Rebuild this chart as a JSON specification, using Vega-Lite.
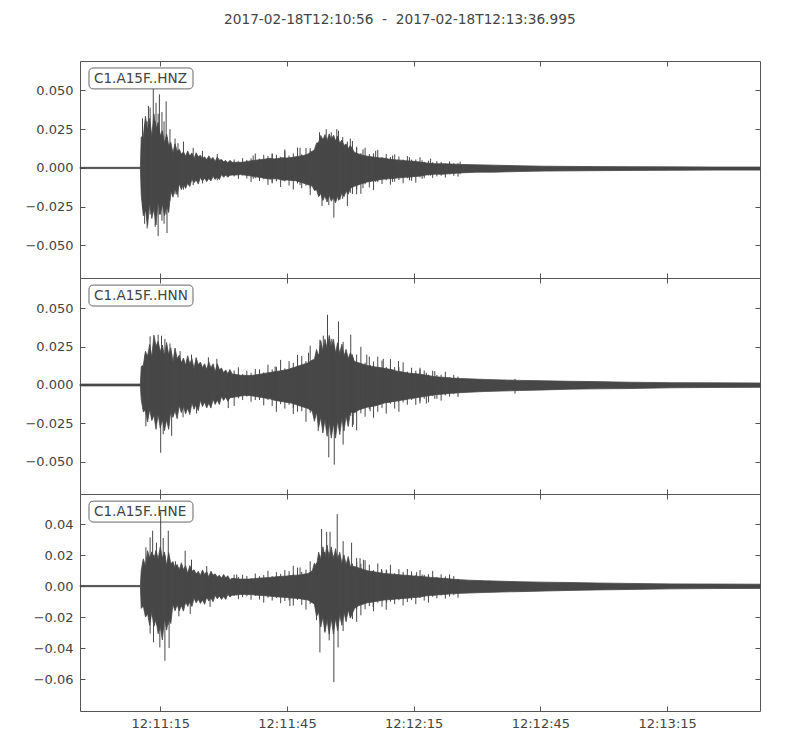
{
"$schema": "https://vega.github.io/schema/vega-lite/v6.json",
"background": "white",
"padding": {"left": 5, "top": 13, "right": 30, "bottom": 10},
"bounds": "flush",
"title": {"text": "2017-02-18T12:10:56\u00a0\u00a0-\u00a0\u00a02017-02-18T12:13:36.995", "anchor": "middle", "font": "DejaVu Sans", "fontSize": 13.7, "fontWeight": "normal", "color": "#444", "offset": 33, "dx": 16},
"config": {"view": {"stroke": "#555", "strokeWidth": 1}, "concat": {"spacing": 0}},
"spacing": 0,
"datasets": {
"bz": [{"t":0,"h":0.0004,"l":-0.0004},{"t":14.3,"h":0.0004,"l":-0.0004},{"t":14.5,"h":0.02,"l":-0.0176},{"t":15,"h":0.0203,"l":-0.0308},{"t":15.5,"h":0.0334,"l":-0.027},{"t":16,"h":0.0238,"l":-0.0372},{"t":16.5,"h":0.0319,"l":-0.0225},{"t":17,"h":0.0203,"l":-0.0326},{"t":17.5,"h":0.0348,"l":-0.0264},{"t":18,"h":0.0252,"l":-0.0368},{"t":18.5,"h":0.0294,"l":-0.0217},{"t":19,"h":0.0208,"l":-0.03},{"t":19.5,"h":0.024,"l":-0.0232},{"t":20,"h":0.0158,"l":-0.0308},{"t":20.5,"h":0.0219,"l":-0.0243},{"t":21,"h":0.0145,"l":-0.0288},{"t":21.5,"h":0.0165,"l":-0.015},{"t":22,"h":0.0098,"l":-0.0189},{"t":22.5,"h":0.0156,"l":-0.0136},{"t":23,"h":0.0108,"l":-0.0173},{"t":23.5,"h":0.0121,"l":-0.0102},{"t":24,"h":0.0088,"l":-0.014},{"t":24.5,"h":0.0105,"l":-0.0104},{"t":25,"h":0.0075,"l":-0.0132},{"t":25.5,"h":0.0109,"l":-0.0099},{"t":26,"h":0.0077,"l":-0.012},{"t":26.5,"h":0.0097,"l":-0.0071},{"t":27,"h":0.006,"l":-0.0095},{"t":27.5,"h":0.0098,"l":-0.0077},{"t":28,"h":0.0072,"l":-0.0104},{"t":28.5,"h":0.0082,"l":-0.0061},{"t":29,"h":0.006,"l":-0.0085},{"t":29.5,"h":0.0072,"l":-0.0066},{"t":30,"h":0.0053,"l":-0.0088},{"t":30.5,"h":0.0078,"l":-0.0068},{"t":31,"h":0.0055,"l":-0.0084},{"t":31.5,"h":0.0068,"l":-0.0053},{"t":32,"h":0.0042,"l":-0.0074},{"t":32.5,"h":0.007,"l":-0.0058},{"t":33,"h":0.005,"l":-0.0075},{"t":33.5,"h":0.0055,"l":-0.0043},{"t":34,"h":0.004,"l":-0.006},{"t":34.5,"h":0.0048,"l":-0.0046},{"t":35,"h":0.0034,"l":-0.006},{"t":35.5,"h":0.0049,"l":-0.0047},{"t":36,"h":0.0036,"l":-0.0046},{"t":37,"h":0.0037,"l":-0.0045},{"t":38,"h":0.0036,"l":-0.0043},{"t":39,"h":0.0039,"l":-0.0046},{"t":40,"h":0.0044,"l":-0.005},{"t":41,"h":0.0048,"l":-0.0054},{"t":42,"h":0.0052,"l":-0.0059},{"t":43,"h":0.0054,"l":-0.0063},{"t":44,"h":0.0058,"l":-0.0068},{"t":45,"h":0.0062,"l":-0.0072},{"t":46,"h":0.0058,"l":-0.007},{"t":47,"h":0.0062,"l":-0.0072},{"t":48,"h":0.0066,"l":-0.0079},{"t":49,"h":0.0064,"l":-0.0077},{"t":50,"h":0.0067,"l":-0.0081},{"t":51,"h":0.0072,"l":-0.0082},{"t":52,"h":0.0076,"l":-0.009},{"t":53,"h":0.0081,"l":-0.0099},{"t":54,"h":0.009,"l":-0.0108},{"t":55,"h":0.0108,"l":-0.0117},{"t":55.5,"h":0.0118,"l":-0.0145},{"t":56,"h":0.016,"l":-0.014},{"t":56.5,"h":0.0165,"l":-0.0185},{"t":57,"h":0.021,"l":-0.0165},{"t":57.5,"h":0.018,"l":-0.021},{"t":58,"h":0.0215,"l":-0.018},{"t":58.5,"h":0.0175,"l":-0.022},{"t":59,"h":0.022,"l":-0.0175},{"t":59.5,"h":0.0185,"l":-0.0215},{"t":60,"h":0.021,"l":-0.019},{"t":60.5,"h":0.0175,"l":-0.0225},{"t":61,"h":0.0205,"l":-0.018},{"t":61.5,"h":0.016,"l":-0.0205},{"t":62,"h":0.018,"l":-0.016},{"t":62.5,"h":0.0145,"l":-0.0185},{"t":63,"h":0.0155,"l":-0.015},{"t":63.5,"h":0.0125,"l":-0.017},{"t":64,"h":0.0145,"l":-0.013},{"t":65,"h":0.01,"l":-0.0118},{"t":66,"h":0.009,"l":-0.0108},{"t":67,"h":0.0081,"l":-0.0099},{"t":68,"h":0.0076,"l":-0.009},{"t":69,"h":0.0072,"l":-0.0086},{"t":70,"h":0.0068,"l":-0.0081},{"t":71,"h":0.0065,"l":-0.0076},{"t":72,"h":0.0063,"l":-0.0072},{"t":73,"h":0.0058,"l":-0.007},{"t":74,"h":0.0054,"l":-0.0068},{"t":75,"h":0.0052,"l":-0.0065},{"t":76,"h":0.005,"l":-0.0063},{"t":77,"h":0.0047,"l":-0.006},{"t":78,"h":0.0045,"l":-0.0059},{"t":79,"h":0.0043,"l":-0.0056},{"t":80,"h":0.004,"l":-0.0054},{"t":81,"h":0.0036,"l":-0.005},{"t":82,"h":0.0032,"l":-0.0045},{"t":83,"h":0.003,"l":-0.0042},{"t":84,"h":0.0027,"l":-0.004},{"t":86,"h":0.0027,"l":-0.004},{"t":88,"h":0.0025,"l":-0.0036},{"t":90,"h":0.0023,"l":-0.0032},{"t":94,"h":0.002,"l":-0.0027},{"t":98,"h":0.0018,"l":-0.0027},{"t":104,"h":0.0014,"l":-0.0023},{"t":110,"h":0.0011,"l":-0.002},{"t":120,"h":0.0009,"l":-0.0018},{"t":130,"h":0.0008,"l":-0.0016},{"t":140,"h":0.0007,"l":-0.0015},{"t":150,"h":0.0006,"l":-0.0014},{"t":160.995,"h":0.0006,"l":-0.0014}],
"sz": [{"t":14.8,"h":0.032,"l":-0.026},{"t":15.3,"h":0.028,"l":-0.036},{"t":15.9,"h":0.03,"l":-0.039},{"t":16.2,"h":0.04,"l":-0.02},{"t":16.6,"h":0.039,"l":-0.03},{"t":17.35,"h":0.051,"l":-0.025},{"t":17.8,"h":0.03,"l":-0.038},{"t":18,"h":0.042,"l":-0.03},{"t":18.5,"h":0.035,"l":-0.044},{"t":18.8,"h":0.0475,"l":-0.03},{"t":19.4,"h":0.036,"l":-0.034},{"t":19.9,"h":0.03,"l":-0.036},{"t":20.4,"h":0.043,"l":-0.03},{"t":20.6,"h":0.02,"l":-0.042},{"t":21.3,"h":0.025,"l":-0.021},{"t":22.5,"h":0.019,"l":-0.017},{"t":23.2,"h":0.016,"l":-0.019},{"t":24.5,"h":0.017,"l":-0.014},{"t":26.8,"h":0.013,"l":-0.011},{"t":29,"h":0.011,"l":-0.01},{"t":32.5,"h":0.009,"l":-0.008},{"t":41,"h":0.008,"l":-0.007},{"t":45.5,"h":0.009,"l":-0.01},{"t":48.5,"h":0.012,"l":-0.008},{"t":52.1,"h":0.013,"l":-0.011},{"t":54.5,"h":0.011,"l":-0.013},{"t":56.7,"h":0.023,"l":-0.018},{"t":57.3,"h":0.019,"l":-0.0245},{"t":58.3,"h":0.025,"l":-0.02},{"t":58.9,"h":0.02,"l":-0.024},{"t":59.5,"h":0.023,"l":-0.019},{"t":60.1,"h":0.021,"l":-0.032},{"t":60.8,"h":0.025,"l":-0.02},{"t":61.2,"h":0.024,"l":-0.021},{"t":62.2,"h":0.02,"l":-0.02},{"t":63.3,"h":0.017,"l":-0.0245},{"t":64,"h":0.019,"l":-0.016},{"t":65.5,"h":0.013,"l":-0.017},{"t":67,"h":0.012,"l":-0.013},{"t":70,"h":0.011,"l":-0.009},{"t":74,"h":0.008,"l":-0.009},{"t":78,"h":0.007,"l":-0.008},{"t":81,"h":0.005,"l":-0.007},{"t":83,"h":0.006,"l":-0.005},{"t":90,"h":0.004,"l":-0.004},
{"t":36.5,"h":0.0055,"l":-0.0055},{"t":37.5,"h":0.0043,"l":-0.007},{"t":38.5,"h":0.0063,"l":-0.0048},{"t":39.5,"h":0.0052,"l":-0.0068},{"t":40.5,"h":0.0062,"l":-0.009},{"t":41.5,"h":0.0093,"l":-0.0066},{"t":42.5,"h":0.006,"l":-0.0085},{"t":43.5,"h":0.0085,"l":-0.0073},{"t":44.5,"h":0.0078,"l":-0.0109},{"t":45.5,"h":0.0094,"l":-0.0094},{"t":46.5,"h":0.0085,"l":-0.0086},{"t":47.5,"h":0.0072,"l":-0.0123},{"t":48.5,"h":0.0108,"l":-0.0087},{"t":49.5,"h":0.008,"l":-0.0114},{"t":50.5,"h":0.0094,"l":-0.014},{"t":51.5,"h":0.0131,"l":-0.01},{"t":52.5,"h":0.0088,"l":-0.0131},{"t":53.5,"h":0.0128,"l":-0.0115},{"t":54.5,"h":0.0127,"l":-0.0175},{"t":64.5,"h":0.0174,"l":-0.0168},{"t":65.5,"h":0.0137,"l":-0.0138},{"t":66.5,"h":0.0095,"l":-0.0167},{"t":67.5,"h":0.0131,"l":-0.0105},{"t":68.5,"h":0.009,"l":-0.0126},{"t":69.5,"h":0.0094,"l":-0.0143},{"t":70.5,"h":0.0117,"l":-0.0091},{"t":71.5,"h":0.0071,"l":-0.0103},{"t":72.5,"h":0.009,"l":-0.0079},{"t":73.5,"h":0.0071,"l":-0.0108},{"t":74.5,"h":0.0087,"l":-0.0089},{"t":75.5,"h":0.0074,"l":-0.0078},{"t":76.5,"h":0.0054,"l":-0.0099},{"t":77.5,"h":0.0077,"l":-0.0066},{"t":78.5,"h":0.0054,"l":-0.0083},{"t":79.5,"h":0.0055,"l":-0.0095},{"t":80.5,"h":0.0069,"l":-0.0061},{"t":81.5,"h":0.0039,"l":-0.0066},{"t":82.5,"h":0.0047,"l":-0.0048},{"t":83.5,"h":0.0037,"l":-0.0064},{"t":84.5,"h":0.0044,"l":-0.0054},{"t":85.5,"h":0.0039,"l":-0.005},{"t":86.5,"h":0.0029,"l":-0.0062},{"t":87.5,"h":0.0042,"l":-0.0041},{"t":88.5,"h":0.003,"l":-0.0051},{"t":89.5,"h":0.0031,"l":-0.0056}],
"bn": [{"t":0,"h":0.0006,"l":-0.0006},{"t":14.3,"h":0.0006,"l":-0.0006},{"t":14.5,"h":0.012,"l":-0.0096},{"t":15,"h":0.0128,"l":-0.0176},{"t":15.5,"h":0.0219,"l":-0.0162},{"t":16,"h":0.0187,"l":-0.024},{"t":16.5,"h":0.0264,"l":-0.0158},{"t":17,"h":0.0182,"l":-0.0231},{"t":17.5,"h":0.0324,"l":-0.0196},{"t":18,"h":0.0252,"l":-0.0288},{"t":18.5,"h":0.0284,"l":-0.0189},{"t":19,"h":0.0216,"l":-0.028},{"t":19.5,"h":0.026,"l":-0.0224},{"t":20,"h":0.0188,"l":-0.0297},{"t":20.5,"h":0.0276,"l":-0.0225},{"t":21,"h":0.0196,"l":-0.0288},{"t":21.5,"h":0.0242,"l":-0.0165},{"t":22,"h":0.0147,"l":-0.021},{"t":22.5,"h":0.024,"l":-0.0166},{"t":23,"h":0.0171,"l":-0.0219},{"t":23.5,"h":0.0194,"l":-0.013},{"t":24,"h":0.0144,"l":-0.018},{"t":24.5,"h":0.0175,"l":-0.014},{"t":25,"h":0.0128,"l":-0.0187},{"t":25.5,"h":0.019,"l":-0.0149},{"t":26,"h":0.0136,"l":-0.0192},{"t":26.5,"h":0.0171,"l":-0.0116},{"t":27,"h":0.0105,"l":-0.0158},{"t":27.5,"h":0.0178,"l":-0.0126},{"t":28,"h":0.0131,"l":-0.0167},{"t":28.5,"h":0.0149,"l":-0.0099},{"t":29,"h":0.0112,"l":-0.014},{"t":29.5,"h":0.0138,"l":-0.011},{"t":30,"h":0.0101,"l":-0.0149},{"t":30.5,"h":0.015,"l":-0.0117},{"t":31,"h":0.011,"l":-0.015},{"t":31.5,"h":0.0138,"l":-0.0092},{"t":32,"h":0.0084,"l":-0.0126},{"t":32.5,"h":0.0138,"l":-0.0098},{"t":33,"h":0.0099,"l":-0.0127},{"t":33.5,"h":0.011,"l":-0.0074},{"t":34,"h":0.008,"l":-0.01},{"t":34.5,"h":0.0098,"l":-0.0078},{"t":35,"h":0.0071,"l":-0.0105},{"t":35.5,"h":0.0101,"l":-0.0083},{"t":36,"h":0.0072,"l":-0.0081},{"t":37,"h":0.0068,"l":-0.0077},{"t":38,"h":0.0063,"l":-0.0072},{"t":39,"h":0.0063,"l":-0.0068},{"t":40,"h":0.0061,"l":-0.0068},{"t":41,"h":0.0063,"l":-0.0072},{"t":42,"h":0.0068,"l":-0.0077},{"t":43,"h":0.0072,"l":-0.0081},{"t":44,"h":0.0077,"l":-0.0086},{"t":45,"h":0.0081,"l":-0.009},{"t":46,"h":0.0086,"l":-0.0099},{"t":47,"h":0.009,"l":-0.0104},{"t":48,"h":0.0095,"l":-0.0108},{"t":49,"h":0.0099,"l":-0.0113},{"t":50,"h":0.0108,"l":-0.0117},{"t":51,"h":0.0117,"l":-0.0126},{"t":52,"h":0.0126,"l":-0.0135},{"t":53,"h":0.0135,"l":-0.0144},{"t":54,"h":0.0144,"l":-0.0153},{"t":55,"h":0.0162,"l":-0.0171},{"t":55.5,"h":0.0166,"l":-0.0236},{"t":56,"h":0.0231,"l":-0.0176},{"t":56.5,"h":0.0184,"l":-0.0276},{"t":57,"h":0.0288,"l":-0.0208},{"t":57.5,"h":0.0221,"l":-0.0311},{"t":58,"h":0.0297,"l":-0.0224},{"t":58.5,"h":0.0238,"l":-0.0333},{"t":59,"h":0.0322,"l":-0.024},{"t":59.5,"h":0.0243,"l":-0.0345},{"t":60,"h":0.0297,"l":-0.0248},{"t":60.5,"h":0.0208,"l":-0.0345},{"t":61,"h":0.0275,"l":-0.0232},{"t":61.5,"h":0.0204,"l":-0.0322},{"t":62,"h":0.0265,"l":-0.0216},{"t":62.5,"h":0.0187,"l":-0.0299},{"t":63,"h":0.0231,"l":-0.02},{"t":63.5,"h":0.017,"l":-0.027},{"t":64,"h":0.0209,"l":-0.0176},{"t":65,"h":0.0153,"l":-0.018},{"t":66,"h":0.0144,"l":-0.0162},{"t":67,"h":0.0135,"l":-0.0153},{"t":68,"h":0.0126,"l":-0.0144},{"t":69,"h":0.0122,"l":-0.014},{"t":70,"h":0.0117,"l":-0.0135},{"t":71,"h":0.0113,"l":-0.0126},{"t":72,"h":0.0108,"l":-0.0117},{"t":73,"h":0.0104,"l":-0.0113},{"t":74,"h":0.0099,"l":-0.0108},{"t":75,"h":0.009,"l":-0.0104},{"t":76,"h":0.0086,"l":-0.0099},{"t":77,"h":0.0081,"l":-0.0095},{"t":78,"h":0.0077,"l":-0.009},{"t":79,"h":0.0074,"l":-0.0086},{"t":80,"h":0.0072,"l":-0.0081},{"t":81,"h":0.0068,"l":-0.0077},{"t":82,"h":0.0063,"l":-0.0072},{"t":83,"h":0.0059,"l":-0.0068},{"t":84,"h":0.0054,"l":-0.0063},{"t":85,"h":0.0052,"l":-0.0061},{"t":86,"h":0.005,"l":-0.0059},{"t":88,"h":0.0045,"l":-0.0054},{"t":90,"h":0.0042,"l":-0.005},{"t":92,"h":0.004,"l":-0.0047},{"t":96,"h":0.0036,"l":-0.0042},{"t":100,"h":0.0033,"l":-0.0039},{"t":104,"h":0.003,"l":-0.0036},{"t":110,"h":0.0027,"l":-0.0032},{"t":116,"h":0.0024,"l":-0.0027},{"t":122,"h":0.0022,"l":-0.0025},{"t":130,"h":0.0018,"l":-0.0023},{"t":140,"h":0.0015,"l":-0.0018},{"t":150,"h":0.0014,"l":-0.0016},{"t":160.995,"h":0.0013,"l":-0.0015}],
"sn": [{"t":15.4,"h":0.0197,"l":-0.012},{"t":15.6,"h":0.01,"l":-0.0268},{"t":16.6,"h":0.0316,"l":-0.015},{"t":17,"h":0.015,"l":-0.022},{"t":18.5,"h":0.0327,"l":-0.02},{"t":19.1,"h":0.02,"l":-0.044},{"t":19.3,"h":0.032,"l":-0.02},{"t":19.7,"h":0.02,"l":-0.032},{"t":20.1,"h":0.03,"l":-0.02},{"t":21.3,"h":0.027,"l":-0.02},{"t":21.7,"h":0.02,"l":-0.033},{"t":23.7,"h":0.022,"l":-0.015},{"t":24.4,"h":0.015,"l":-0.021},{"t":26.4,"h":0.0197,"l":-0.012},{"t":27.6,"h":0.012,"l":-0.0185},{"t":30.4,"h":0.018,"l":-0.011},{"t":32.4,"h":0.017,"l":-0.01},{"t":35.1,"h":0.008,"l":-0.015},{"t":46.2,"h":0.012,"l":-0.009},{"t":50.5,"h":0.01,"l":-0.015},{"t":54.1,"h":0.021,"l":-0.014},{"t":56.4,"h":0.02,"l":-0.03},{"t":56.8,"h":0.0294,"l":-0.02},{"t":57.6,"h":0.032,"l":-0.022},{"t":58.6,"h":0.0456,"l":-0.025},{"t":58.9,"h":0.025,"l":-0.047},{"t":59.6,"h":0.03,"l":-0.03},{"t":60.2,"h":0.025,"l":-0.0517},{"t":61.2,"h":0.0413,"l":-0.025},{"t":62.3,"h":0.028,"l":-0.0387},{"t":64.1,"h":0.0327,"l":-0.02},{"t":64.7,"h":0.018,"l":-0.0258},{"t":67.9,"h":0.0197,"l":-0.013},{"t":68.7,"h":0.013,"l":-0.017},{"t":71.8,"h":0.017,"l":-0.012},{"t":75.4,"h":0.0155,"l":-0.011},{"t":80.5,"h":0.01,"l":-0.012},{"t":82,"h":0.008,"l":-0.012},{"t":84,"h":0.009,"l":-0.009},{"t":103,"h":0.004,"l":-0.0056},
{"t":36.5,"h":0.0094,"l":-0.0136},{"t":37.5,"h":0.0115,"l":-0.0086},{"t":38.5,"h":0.007,"l":-0.0098},{"t":39.5,"h":0.0093,"l":-0.0075},{"t":40.5,"h":0.0079,"l":-0.0109},{"t":41.5,"h":0.0104,"l":-0.0098},{"t":42.5,"h":0.0101,"l":-0.0097},{"t":43.5,"h":0.0082,"l":-0.0133},{"t":44.5,"h":0.0132,"l":-0.0098},{"t":45.5,"h":0.0101,"l":-0.0137},{"t":46.5,"h":0.0118,"l":-0.0174},{"t":47.5,"h":0.0163,"l":-0.0124},{"t":48.5,"h":0.0108,"l":-0.0153},{"t":49.5,"h":0.0155,"l":-0.0128},{"t":50.5,"h":0.0144,"l":-0.0189},{"t":51.5,"h":0.0196,"l":-0.0174},{"t":52.5,"h":0.0189,"l":-0.0171},{"t":53.5,"h":0.0155,"l":-0.0239},{"t":54.5,"h":0.0255,"l":-0.018},{"t":64.5,"h":0.0198,"l":-0.0273},{"t":65.5,"h":0.0198,"l":-0.0295},{"t":66.5,"h":0.0248,"l":-0.0184},{"t":67.5,"h":0.0145,"l":-0.0206},{"t":68.5,"h":0.0185,"l":-0.0157},{"t":69.5,"h":0.0152,"l":-0.0213},{"t":70.5,"h":0.0184,"l":-0.0174},{"t":71.5,"h":0.0159,"l":-0.0149},{"t":72.5,"h":0.0117,"l":-0.0186},{"t":73.5,"h":0.0168,"l":-0.0122},{"t":74.5,"h":0.0116,"l":-0.0153},{"t":75.5,"h":0.0116,"l":-0.0174},{"t":76.5,"h":0.0147,"l":-0.0113},{"t":77.5,"h":0.0087,"l":-0.0128},{"t":78.5,"h":0.0112,"l":-0.0097},{"t":79.5,"h":0.0093,"l":-0.0129},{"t":80.5,"h":0.0112,"l":-0.0104},{"t":81.5,"h":0.0094,"l":-0.009},{"t":82.5,"h":0.0067,"l":-0.0112},{"t":83.5,"h":0.0093,"l":-0.0072},{"t":84.5,"h":0.0065,"l":-0.009},{"t":85.5,"h":0.0067,"l":-0.0102},{"t":86.5,"h":0.0086,"l":-0.0067},{"t":87.5,"h":0.0052,"l":-0.0076},{"t":88.5,"h":0.0066,"l":-0.0059},{"t":89.5,"h":0.0055,"l":-0.0078}],
"be": [{"t":0,"h":0.0004,"l":-0.0004},{"t":14.3,"h":0.0004,"l":-0.0004},{"t":14.5,"h":0.0102,"l":-0.0144},{"t":15,"h":0.0176,"l":-0.0128},{"t":15.5,"h":0.0126,"l":-0.02},{"t":16,"h":0.0228,"l":-0.0179},{"t":16.5,"h":0.018,"l":-0.0253},{"t":17,"h":0.0221,"l":-0.0168},{"t":17.5,"h":0.0176,"l":-0.026},{"t":18,"h":0.023,"l":-0.0216},{"t":18.5,"h":0.0173,"l":-0.0308},{"t":19,"h":0.0253,"l":-0.0261},{"t":19.5,"h":0.0179,"l":-0.0348},{"t":20,"h":0.022,"l":-0.021},{"t":20.5,"h":0.0133,"l":-0.0284},{"t":21,"h":0.0216,"l":-0.0213},{"t":21.5,"h":0.0144,"l":-0.0242},{"t":22,"h":0.0158,"l":-0.0119},{"t":22.5,"h":0.0116,"l":-0.016},{"t":23,"h":0.014,"l":-0.012},{"t":23.5,"h":0.0101,"l":-0.016},{"t":24,"h":0.015,"l":-0.0126},{"t":24.5,"h":0.0106,"l":-0.0162},{"t":25,"h":0.0132,"l":-0.0098},{"t":25.5,"h":0.0081,"l":-0.0131},{"t":26,"h":0.0132,"l":-0.0102},{"t":26.5,"h":0.0095,"l":-0.0132},{"t":27,"h":0.0105,"l":-0.0077},{"t":27.5,"h":0.0078,"l":-0.0108},{"t":28,"h":0.0095,"l":-0.0084},{"t":28.5,"h":0.0069,"l":-0.0112},{"t":29,"h":0.0104,"l":-0.009},{"t":29.5,"h":0.0075,"l":-0.0118},{"t":30,"h":0.0094,"l":-0.0071},{"t":30.5,"h":0.0057,"l":-0.0097},{"t":31,"h":0.0096,"l":-0.0077},{"t":31.5,"h":0.007,"l":-0.0101},{"t":32,"h":0.0079,"l":-0.006},{"t":32.5,"h":0.0058,"l":-0.0082},{"t":33,"h":0.007,"l":-0.0064},{"t":33.5,"h":0.0051,"l":-0.0086},{"t":34,"h":0.0075,"l":-0.0068},{"t":34.5,"h":0.0053,"l":-0.0086},{"t":35,"h":0.0066,"l":-0.0053},{"t":35.5,"h":0.0041,"l":-0.0071},{"t":36,"h":0.005,"l":-0.0059},{"t":37,"h":0.0047,"l":-0.0056},{"t":38,"h":0.0045,"l":-0.0054},{"t":39,"h":0.0045,"l":-0.0054},{"t":40,"h":0.0045,"l":-0.0054},{"t":41,"h":0.0047,"l":-0.0056},{"t":42,"h":0.005,"l":-0.0059},{"t":43,"h":0.0052,"l":-0.0061},{"t":44,"h":0.0054,"l":-0.0063},{"t":45,"h":0.0056,"l":-0.0065},{"t":46,"h":0.0059,"l":-0.0068},{"t":47,"h":0.0061,"l":-0.007},{"t":48,"h":0.0063,"l":-0.0072},{"t":49,"h":0.0065,"l":-0.0074},{"t":50,"h":0.0068,"l":-0.0077},{"t":51,"h":0.007,"l":-0.0079},{"t":52,"h":0.0072,"l":-0.0081},{"t":53,"h":0.0077,"l":-0.0086},{"t":54,"h":0.0081,"l":-0.009},{"t":55,"h":0.0099,"l":-0.0108},{"t":55.5,"h":0.0148,"l":-0.0116},{"t":56,"h":0.0128,"l":-0.0196},{"t":56.5,"h":0.0219,"l":-0.0168},{"t":57,"h":0.0168,"l":-0.0264},{"t":57.5,"h":0.0253,"l":-0.02},{"t":58,"h":0.0187,"l":-0.0299},{"t":58.5,"h":0.0264,"l":-0.0216},{"t":59,"h":0.0176,"l":-0.031},{"t":59.5,"h":0.0253,"l":-0.0208},{"t":60,"h":0.0168,"l":-0.031},{"t":60.5,"h":0.0241,"l":-0.0208},{"t":61,"h":0.016,"l":-0.0288},{"t":61.5,"h":0.0218,"l":-0.0184},{"t":62,"h":0.0144,"l":-0.0253},{"t":62.5,"h":0.0201,"l":-0.0168},{"t":63,"h":0.0136,"l":-0.023},{"t":63.5,"h":0.019,"l":-0.0152},{"t":64,"h":0.0128,"l":-0.0207},{"t":65,"h":0.0126,"l":-0.0144},{"t":66,"h":0.0117,"l":-0.0126},{"t":67,"h":0.0108,"l":-0.0117},{"t":68,"h":0.0099,"l":-0.0108},{"t":69,"h":0.0095,"l":-0.0104},{"t":70,"h":0.009,"l":-0.0099},{"t":71,"h":0.0086,"l":-0.0095},{"t":72,"h":0.0081,"l":-0.009},{"t":73,"h":0.0079,"l":-0.0088},{"t":74,"h":0.0077,"l":-0.0086},{"t":75,"h":0.0074,"l":-0.0083},{"t":76,"h":0.0072,"l":-0.0081},{"t":77,"h":0.007,"l":-0.0079},{"t":78,"h":0.0068,"l":-0.0077},{"t":79,"h":0.0065,"l":-0.0074},{"t":80,"h":0.0063,"l":-0.0072},{"t":81,"h":0.0061,"l":-0.0068},{"t":82,"h":0.0059,"l":-0.0063},{"t":83,"h":0.0056,"l":-0.0061},{"t":84,"h":0.0054,"l":-0.0059},{"t":85,"h":0.0052,"l":-0.0056},{"t":86,"h":0.005,"l":-0.0054},{"t":88,"h":0.0045,"l":-0.005},{"t":90,"h":0.0041,"l":-0.0047},{"t":92,"h":0.0038,"l":-0.0045},{"t":96,"h":0.0034,"l":-0.0041},{"t":100,"h":0.0031,"l":-0.0038},{"t":104,"h":0.0028,"l":-0.0036},{"t":110,"h":0.0025,"l":-0.0032},{"t":116,"h":0.0023,"l":-0.0028},{"t":122,"h":0.002,"l":-0.0025},{"t":130,"h":0.0017,"l":-0.0022},{"t":140,"h":0.0014,"l":-0.0018},{"t":150,"h":0.0013,"l":-0.0016},{"t":160.995,"h":0.0012,"l":-0.0015}],
"se": [{"t":15.3,"h":0.012,"l":-0.016},{"t":15.6,"h":0.025,"l":-0.015},{"t":16.6,"h":0.0314,"l":-0.0307},{"t":17.2,"h":0.0357,"l":-0.02},{"t":17.4,"h":0.02,"l":-0.0363},{"t":18.1,"h":0.028,"l":-0.025},{"t":18.9,"h":0.02,"l":-0.0396},{"t":19.1,"h":0.048,"l":-0.025},{"t":19.7,"h":0.031,"l":-0.028},{"t":20.1,"h":0.02,"l":-0.0482},{"t":20.9,"h":0.0357,"l":-0.025},{"t":21.1,"h":0.015,"l":-0.04},{"t":22.6,"h":0.016,"l":-0.014},{"t":23.4,"h":0.012,"l":-0.0195},{"t":24.9,"h":0.0228,"l":-0.012},{"t":26.1,"h":0.012,"l":-0.018},{"t":26.4,"h":0.017,"l":-0.01},{"t":30,"h":0.0129,"l":-0.008},{"t":30.8,"h":0.008,"l":-0.0135},{"t":37.1,"h":0.0075,"l":-0.006},{"t":49.7,"h":0.007,"l":-0.0129},{"t":50.5,"h":0.0131,"l":-0.007},{"t":52.1,"h":0.012,"l":-0.008},{"t":56,"h":0.015,"l":-0.022},{"t":56.8,"h":0.02,"l":-0.0428},{"t":57.2,"h":0.0368,"l":-0.02},{"t":57.9,"h":0.022,"l":-0.029},{"t":58.4,"h":0.035,"l":-0.02},{"t":59,"h":0.022,"l":-0.035},{"t":59.2,"h":0.035,"l":-0.02},{"t":60.1,"h":0.02,"l":-0.062},{"t":60.9,"h":0.0464,"l":-0.02},{"t":61.1,"h":0.02,"l":-0.0396},{"t":62.3,"h":0.029,"l":-0.029},{"t":64.3,"h":0.028,"l":-0.015},{"t":65.5,"h":0.015,"l":-0.023},{"t":66.3,"h":0.018,"l":-0.012},{"t":67.1,"h":0.017,"l":-0.01},{"t":69.4,"h":0.01,"l":-0.0135},{"t":71.4,"h":0.011,"l":-0.008},{"t":72.6,"h":0.01,"l":-0.0108},{"t":79.7,"h":0.009,"l":-0.007},{"t":81,"h":0.0075,"l":-0.007},
{"t":36.5,"h":0.0073,"l":-0.0064},{"t":37.5,"h":0.0059,"l":-0.0085},{"t":38.5,"h":0.0073,"l":-0.0072},{"t":39.5,"h":0.0065,"l":-0.0066},{"t":40.5,"h":0.0051,"l":-0.0088},{"t":41.5,"h":0.0081,"l":-0.0064},{"t":42.5,"h":0.0063,"l":-0.0087},{"t":43.5,"h":0.0071,"l":-0.0107},{"t":44.5,"h":0.0098,"l":-0.0075},{"t":45.5,"h":0.0064,"l":-0.0093},{"t":46.5,"h":0.009,"l":-0.0077},{"t":47.5,"h":0.0079,"l":-0.0111},{"t":48.5,"h":0.0103,"l":-0.0097},{"t":49.5,"h":0.0096,"l":-0.0092},{"t":50.5,"h":0.0077,"l":-0.0126},{"t":51.5,"h":0.0119,"l":-0.0089},{"t":52.5,"h":0.0091,"l":-0.0121},{"t":53.5,"h":0.0106,"l":-0.0152},{"t":54.5,"h":0.016,"l":-0.0116},{"t":64.5,"h":0.0145,"l":-0.0213},{"t":65.5,"h":0.0182,"l":-0.015},{"t":66.5,"h":0.0144,"l":-0.0189},{"t":67.5,"h":0.0167,"l":-0.015},{"t":68.5,"h":0.0139,"l":-0.0129},{"t":69.5,"h":0.0102,"l":-0.0162},{"t":70.5,"h":0.0146,"l":-0.0107},{"t":71.5,"h":0.0101,"l":-0.0133},{"t":72.5,"h":0.0107,"l":-0.0153},{"t":73.5,"h":0.0138,"l":-0.0101},{"t":74.5,"h":0.0083,"l":-0.0116},{"t":75.5,"h":0.0109,"l":-0.0091},{"t":76.5,"h":0.0091,"l":-0.0125},{"t":77.5,"h":0.011,"l":-0.0103},{"t":78.5,"h":0.0095,"l":-0.0091},{"t":79.5,"h":0.0071,"l":-0.0117},{"t":80.5,"h":0.0104,"l":-0.0077},{"t":81.5,"h":0.0073,"l":-0.0094},{"t":82.5,"h":0.0076,"l":-0.0107},{"t":83.5,"h":0.0098,"l":-0.0069},{"t":84.5,"h":0.0059,"l":-0.0079},{"t":85.5,"h":0.0076,"l":-0.006},{"t":86.5,"h":0.0062,"l":-0.0081},{"t":87.5,"h":0.0075,"l":-0.0067},{"t":88.5,"h":0.0065,"l":-0.0059},{"t":89.5,"h":0.0047,"l":-0.0075}]
},
"vconcat": [
{
"width": 680, "height": 217,
"resolve": {"axis": {"x": "independent", "y": "independent"}},
"layer": [
{"data": {"values": [{"label": "C1.A15F..HNZ"}]}, "mark": {"type": "rect", "fill": "white", "stroke": "#666", "strokeWidth": 1, "cornerRadius": 4},
 "encoding": {"x": {"datum": 2.13, "type": "quantitative", "scale": {"domain": [0, 160.995], "nice": false, "zero": false}, "axis": null}, "x2": {"datum": 26.75}, "y": {"datum": 0.0645, "type": "quantitative", "scale": {"domain": [-0.071, 0.069], "nice": false, "zero": false}, "axis": null}, "y2": {"datum": 0.051}}},
{"data": {"name": "bz"}, "mark": {"type": "area", "color": "#474747", "stroke": "#474747", "strokeWidth": 0.8},
 "encoding": {"x": {"field": "t", "type": "quantitative", "scale": {"domain": [0, 160.995], "nice": false, "zero": false}, "axis": {"orient": "bottom", "values": [19, 49, 79, 109, 139], "labels": false, "title": null, "domain": false, "grid": false, "tickSize": -5, "tickColor": "#555", "minExtent": 0, "maxExtent": 0}},
  "y": {"field": "h", "type": "quantitative", "scale": {"domain": [-0.071, 0.069], "nice": false, "zero": false}, "axis": {"orient": "left", "values": [-0.05, -0.025, 0, 0.025, 0.05], "format": ".3f", "title": null, "domain": false, "grid": false, "tickSize": -5, "tickColor": "#555", "labelPadding": 12, "labelFont": "DejaVu Sans", "labelFontSize": 13, "labelColor": "#444", "minExtent": 74, "maxExtent": 74}},
  "y2": {"field": "l"}}},
{"data": {"name": "sz"}, "mark": {"type": "rule", "color": "#474747", "strokeWidth": 1},
 "encoding": {"x": {"field": "t", "type": "quantitative", "scale": {"domain": [0, 160.995], "nice": false, "zero": false}, "axis": {"orient": "top", "values": [19, 49, 79, 109, 139], "labels": false, "title": null, "domain": false, "grid": false, "tickSize": -5, "tickColor": "#555", "minExtent": 0, "maxExtent": 0}},
  "y": {"field": "h", "type": "quantitative", "scale": {"domain": [-0.071, 0.069], "nice": false, "zero": false}, "axis": {"orient": "right", "values": [-0.05, -0.025, 0, 0.025, 0.05], "labels": false, "title": null, "domain": false, "grid": false, "tickSize": -5, "tickColor": "#555", "minExtent": 0, "maxExtent": 0}},
  "y2": {"field": "l"}}},
{"data": {"values": [{"label": "C1.A15F..HNZ"}]}, "mark": {"type": "text", "align": "left", "baseline": "middle", "font": "DejaVu Sans", "fontSize": 13.6, "color": "#444"},
 "encoding": {"x": {"datum": 3.3, "type": "quantitative", "axis": null}, "y": {"datum": 0.0577, "type": "quantitative", "axis": null}, "text": {"field": "label"}}}
]
},
{
"width": 680, "height": 216,
"resolve": {"axis": {"x": "independent", "y": "independent"}},
"layer": [
{"data": {"values": [{"label": "C1.A15F..HNN"}]}, "mark": {"type": "rect", "fill": "white", "stroke": "#666", "strokeWidth": 1, "cornerRadius": 4},
 "encoding": {"x": {"datum": 2.13, "type": "quantitative", "scale": {"domain": [0, 160.995], "nice": false, "zero": false}, "axis": null}, "x2": {"datum": 26.75}, "y": {"datum": 0.0649, "type": "quantitative", "scale": {"domain": [-0.0708, 0.0695], "nice": false, "zero": false}, "axis": null}, "y2": {"datum": 0.0513}}},
{"data": {"name": "bn"}, "mark": {"type": "area", "color": "#474747", "stroke": "#474747", "strokeWidth": 0.8},
 "encoding": {"x": {"field": "t", "type": "quantitative", "scale": {"domain": [0, 160.995], "nice": false, "zero": false}, "axis": {"orient": "bottom", "values": [19, 49, 79, 109, 139], "labels": false, "title": null, "domain": false, "grid": false, "tickSize": -5, "tickColor": "#555", "minExtent": 0, "maxExtent": 0}},
  "y": {"field": "h", "type": "quantitative", "scale": {"domain": [-0.0708, 0.0695], "nice": false, "zero": false}, "axis": {"orient": "left", "values": [-0.05, -0.025, 0, 0.025, 0.05], "format": ".3f", "title": null, "domain": false, "grid": false, "tickSize": -5, "tickColor": "#555", "labelPadding": 12, "labelFont": "DejaVu Sans", "labelFontSize": 13, "labelColor": "#444", "minExtent": 74, "maxExtent": 74}},
  "y2": {"field": "l"}}},
{"data": {"name": "sn"}, "mark": {"type": "rule", "color": "#474747", "strokeWidth": 1},
 "encoding": {"x": {"field": "t", "type": "quantitative", "scale": {"domain": [0, 160.995], "nice": false, "zero": false}, "axis": {"orient": "top", "values": [19, 49, 79, 109, 139], "labels": false, "title": null, "domain": false, "grid": false, "tickSize": -5, "tickColor": "#555", "minExtent": 0, "maxExtent": 0}},
  "y": {"field": "h", "type": "quantitative", "scale": {"domain": [-0.0708, 0.0695], "nice": false, "zero": false}, "axis": {"orient": "right", "values": [-0.05, -0.025, 0, 0.025, 0.05], "labels": false, "title": null, "domain": false, "grid": false, "tickSize": -5, "tickColor": "#555", "minExtent": 0, "maxExtent": 0}},
  "y2": {"field": "l"}}},
{"data": {"values": [{"label": "C1.A15F..HNN"}]}, "mark": {"type": "text", "align": "left", "baseline": "middle", "font": "DejaVu Sans", "fontSize": 13.6, "color": "#444"},
 "encoding": {"x": {"datum": 3.3, "type": "quantitative", "axis": null}, "y": {"datum": 0.0581, "type": "quantitative", "axis": null}, "text": {"field": "label"}}}
]
},
{
"width": 680, "height": 217,
"resolve": {"axis": {"x": "independent", "y": "independent"}},
"layer": [
{"data": {"values": [{"label": "C1.A15F..HNE"}]}, "mark": {"type": "rect", "fill": "white", "stroke": "#666", "strokeWidth": 1, "cornerRadius": 4},
 "encoding": {"x": {"datum": 2.13, "type": "quantitative", "scale": {"domain": [0, 160.995], "nice": false, "zero": false}, "axis": null}, "x2": {"datum": 26.75}, "y": {"datum": 0.0548, "type": "quantitative", "scale": {"domain": [-0.0806, 0.0594], "nice": false, "zero": false}, "axis": null}, "y2": {"datum": 0.0413}}},
{"data": {"name": "be"}, "mark": {"type": "area", "color": "#474747", "stroke": "#474747", "strokeWidth": 0.8},
 "encoding": {"x": {"field": "t", "type": "quantitative", "scale": {"domain": [0, 160.995], "nice": false, "zero": false}, "axis": {"orient": "bottom", "values": [19, 49, 79, 109, 139], "labelExpr": "timeFormat(datetime(2017, 1, 18, 12, 10, 56 + datum.value), '%H:%M:%S')", "title": null, "domain": false, "grid": false, "tickSize": -5, "tickColor": "#555", "labelPadding": 11, "labelFont": "DejaVu Sans", "labelFontSize": 13, "labelColor": "#444"}},
  "y": {"field": "h", "type": "quantitative", "scale": {"domain": [-0.0806, 0.0594], "nice": false, "zero": false}, "axis": {"orient": "left", "values": [-0.06, -0.04, -0.02, 0, 0.02, 0.04], "format": ".2f", "title": null, "domain": false, "grid": false, "tickSize": -5, "tickColor": "#555", "labelPadding": 12, "labelFont": "DejaVu Sans", "labelFontSize": 13, "labelColor": "#444", "minExtent": 74, "maxExtent": 74}},
  "y2": {"field": "l"}}},
{"data": {"name": "se"}, "mark": {"type": "rule", "color": "#474747", "strokeWidth": 1},
 "encoding": {"x": {"field": "t", "type": "quantitative", "scale": {"domain": [0, 160.995], "nice": false, "zero": false}, "axis": {"orient": "top", "values": [19, 49, 79, 109, 139], "labels": false, "title": null, "domain": false, "grid": false, "tickSize": -5, "tickColor": "#555", "minExtent": 0, "maxExtent": 0}},
  "y": {"field": "h", "type": "quantitative", "scale": {"domain": [-0.0806, 0.0594], "nice": false, "zero": false}, "axis": {"orient": "right", "values": [-0.06, -0.04, -0.02, 0, 0.02, 0.04], "labels": false, "title": null, "domain": false, "grid": false, "tickSize": -5, "tickColor": "#555", "minExtent": 0, "maxExtent": 0}},
  "y2": {"field": "l"}}},
{"data": {"values": [{"label": "C1.A15F..HNE"}]}, "mark": {"type": "text", "align": "left", "baseline": "middle", "font": "DejaVu Sans", "fontSize": 13.6, "color": "#444"},
 "encoding": {"x": {"datum": 3.3, "type": "quantitative", "axis": null}, "y": {"datum": 0.048, "type": "quantitative", "axis": null}, "text": {"field": "label"}}}
]
}
]
}
